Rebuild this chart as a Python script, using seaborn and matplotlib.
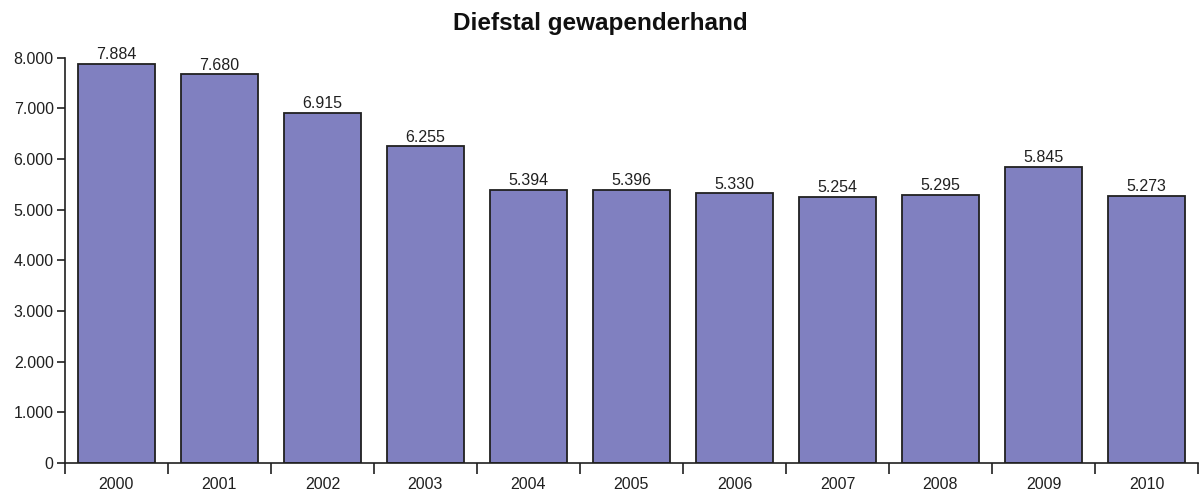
import matplotlib
matplotlib.use("Agg")
import matplotlib.pyplot as plt
import seaborn as sns
import pandas as pd
import numpy as np
from matplotlib.ticker import FixedLocator, FuncFormatter

# Data
years = ['2000', '2001', '2002', '2003', '2004', '2005', '2006', '2007', '2008', '2009', '2010']
values = [7884, 7680, 6915, 6255, 5394, 5396, 5330, 5254, 5295, 5845, 5273]

df = pd.DataFrame({'jaar': years, 'aantal': values})

sns.set_style('white')
plt.rcParams['font.family'] = ['Liberation Sans', 'DejaVu Sans']

fig = plt.figure(figsize=(12.01, 4.90), dpi=100)
ax = fig.add_axes([0.054, 0.055, 0.9435, 0.827])

sns.barplot(data=df, x='jaar', y='aantal', color='#8080c0', saturation=1,
            width=0.75, edgecolor='#202020', linewidth=1.3, ax=ax)

def dots(v, pos=None):
    return f"{int(v):,}".replace(',', '.')

for i, v in enumerate(values):
    ax.text(i, v + 30, dots(v), ha='center', va='bottom', fontsize=11.5, color='#202020')

ax.set_ylim(0, 8000)
ax.set_xlim(-0.5, len(years) - 0.5)
ax.yaxis.set_major_locator(FixedLocator(np.arange(0, 8001, 1000)))
ax.yaxis.set_major_formatter(FuncFormatter(dots))

# x ticks sit between categories
ax.xaxis.set_minor_locator(FixedLocator(np.arange(-0.5, len(years), 1.0)))
ax.tick_params(axis='x', which='major', bottom=True, length=0, pad=10, labelsize=11.5)
ax.tick_params(axis='x', which='minor', bottom=True, length=8, width=1.2,
               color='#202020', direction='out')
ax.tick_params(axis='y', which='major', left=True, length=6, width=1.2,
               color='#202020', direction='out', labelsize=11.5, pad=2)
ax.tick_params(labelcolor='#202020')

for s in ['top', 'right']:
    ax.spines[s].set_visible(False)
ax.spines['left'].set_color('#202020')
ax.spines['left'].set_linewidth(1.2)
ax.spines['bottom'].set_color('#202020')
ax.spines['bottom'].set_linewidth(1.2)

ax.set_xlabel('')
ax.set_ylabel('')
fig.suptitle('Diefstal gewapenderhand', x=0.5, y=0.975, fontsize=17.5, fontweight='bold', color='#101010')

fig.savefig('out.png', dpi=100)
